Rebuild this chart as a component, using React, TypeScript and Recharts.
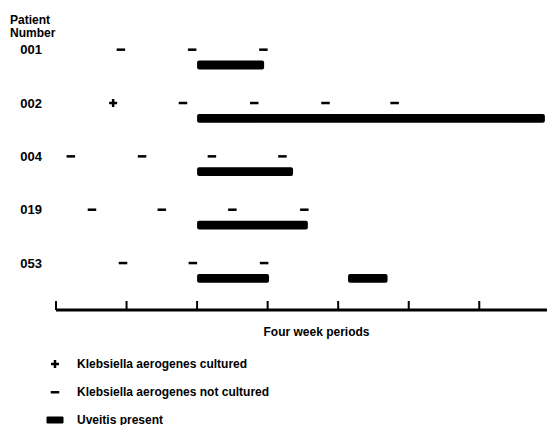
import {
  ScatterChart,
  Scatter,
  XAxis,
  YAxis,
  ReferenceArea,
  Legend,
} from "recharts";

const FONT = '"Liberation Sans", Arial, sans-serif';

// rows top to bottom
const patientIds = ["001", "002", "004", "019", "053"];

const periodTicks = [0, 1, 2, 3, 4, 5, 6];

// "+" : Klebsiella aerogenes cultured
const culturedPoints = [{ row: 1, period: 0.81 }];

// "-" : Klebsiella aerogenes not cultured
const notCulturedPoints = [
  { row: 0, period: 0.92 },
  { row: 0, period: 1.93 },
  { row: 0, period: 2.94 },
  { row: 1, period: 1.8 },
  { row: 1, period: 2.81 },
  { row: 1, period: 3.82 },
  { row: 1, period: 4.8 },
  { row: 2, period: 0.21 },
  { row: 2, period: 1.22 },
  { row: 2, period: 2.21 },
  { row: 2, period: 3.21 },
  { row: 3, period: 0.51 },
  { row: 3, period: 1.5 },
  { row: 3, period: 2.5 },
  { row: 3, period: 3.52 },
  { row: 4, period: 0.95 },
  { row: 4, period: 1.94 },
  { row: 4, period: 2.95 },
];

// uveitis present, start/end in four week periods
const uveitisSpans = [
  { row: 0, start: 2.0, end: 2.95 },
  { row: 1, start: 2.0, end: 6.93 },
  { row: 2, start: 2.0, end: 3.36 },
  { row: 3, start: 2.0, end: 3.57 },
  { row: 4, start: 2.0, end: 3.02 },
  { row: 4, start: 4.14, end: 4.7 },
];

const legendLabels = [
  "Klebsiella aerogenes cultured",
  "Klebsiella aerogenes not cultured",
  "Uveitis present",
];

const DashShape = (props: any) => (
  <rect x={props.cx - 4.25} y={props.cy - 1.25} width={8.5} height={2.5} fill="#000" />
);

const PlusShape = (props: any) => (
  <g fill="#000">
    <rect x={props.cx - 4} y={props.cy - 1.25} width={8} height={2.5} />
    <rect x={props.cx - 1.25} y={props.cy - 4} width={2.5} height={8} />
  </g>
);

const UpTick = (props: any) => (
  <line x1={props.x} x2={props.x} y1={props.y - 9} y2={props.y} stroke="#000" strokeWidth={2} />
);

const PatientHeader = () => (
  <text fontFamily={FONT} fontWeight="bold" fontSize={12} fill="#000">
    <tspan x={10} y={24}>Patient</tspan>
    <tspan x={10} y={37}>Number</tspan>
  </text>
);

function LegendIcon({ index }: { index: number }) {
  return (
    <svg width={20} height={12} style={{ display: "block" }}>
      {index === 0 && (
        <g fill="#000">
          <rect x={6} y={4.75} width={8} height={2.5} />
          <rect x={8.75} y={2} width={2.5} height={8} />
        </g>
      )}
      {index === 1 && <rect x={5.75} y={5} width={8.5} height={2.5} fill="#000" />}
      {index === 2 && <rect x={1.5} y={2.5} width={17} height={7} rx={1} fill="#000" />}
    </svg>
  );
}

const renderLegend = () => (
  <div style={{ fontFamily: FONT, fontWeight: "bold", fontSize: 12, color: "#000" }}>
    {legendLabels.map((label, i) => (
      <div key={label} style={{ display: "flex", alignItems: "center", height: 28 }}>
        <div style={{ marginLeft: 45 }}>
          <LegendIcon index={i} />
        </div>
        <span style={{ marginLeft: 12 }}>{label}</span>
      </div>
    ))}
  </div>
);

export default function App() {
  return (
    <div style={{ position: "absolute", left: 0, top: 0, background: "#fff" }}>
      <ScatterChart width={547} height={425} margin={{ top: 23, right: 0, bottom: 85, left: 0 }}>
        <XAxis
          type="number"
          dataKey="period"
          domain={[0, 6.96]}
          allowDataOverflow
          ticks={periodTicks}
          interval={0}
          tickSize={0}
          tickMargin={0}
          tickLine={false}
          tick={UpTick}
          axisLine={{ stroke: "#000", strokeWidth: 3 }}
          height={30}
          label={{
            value: "Four week periods",
            position: "insideBottom",
            offset: 4,
            dx: 15,
            fill: "#000",
            fontFamily: FONT,
            fontWeight: "bold",
            fontSize: 12,
          }}
        />
        <YAxis
          type="number"
          dataKey="row"
          domain={[-0.5, 4.88]}
          allowDataOverflow
          reversed
          ticks={[0, 1, 2, 3, 4]}
          interval={0}
          tickFormatter={(v: number) => patientIds[v]}
          axisLine={false}
          tickLine={false}
          tickSize={0}
          tickMargin={14}
          width={56}
          tick={{ fill: "#000", fontFamily: FONT, fontWeight: "bold", fontSize: 13 }}
          label={{ content: PatientHeader }}
        />
        {uveitisSpans.map((s, i) => (
          <ReferenceArea
            key={i}
            x1={s.start}
            x2={s.end}
            y1={s.row + 0.205}
            y2={s.row + 0.37}
            fill="#000"
            fillOpacity={1}
            stroke="none"
            radius={2}
            ifOverflow="visible"
          />
        ))}
        <Scatter
          name={legendLabels[0]}
          data={culturedPoints}
          shape={PlusShape}
          isAnimationActive={false}
        />
        <Scatter
          name={legendLabels[1]}
          data={notCulturedPoints}
          shape={DashShape}
          isAnimationActive={false}
        />
        <Legend
          layout="vertical"
          align="center"
          verticalAlign="middle"
          content={renderLegend}
          wrapperStyle={{ top: 350, left: 0, width: 400 }}
        />
      </ScatterChart>
    </div>
  );
}
